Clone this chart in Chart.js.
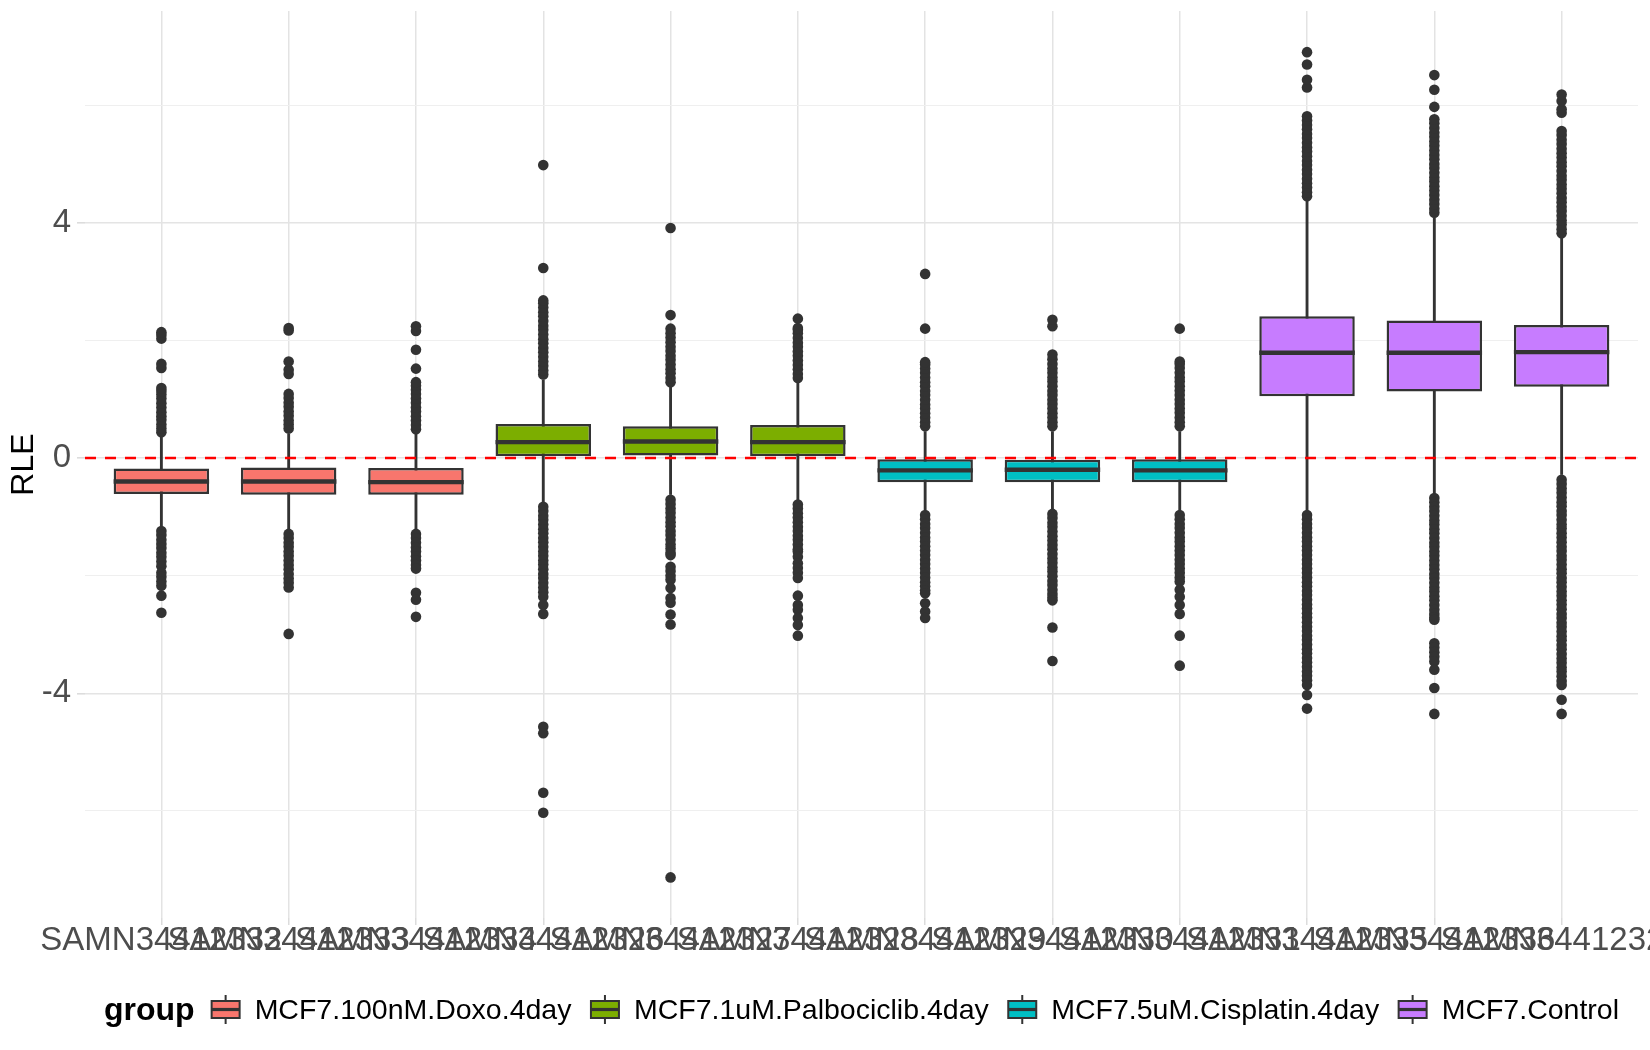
<!DOCTYPE html>
<html>
<head>
<meta charset="utf-8">
<script src="https://cdn.jsdelivr.net/npm/chart.js@4.4.1/dist/chart.umd.min.js"></script>
<style>
html,body{margin:0;padding:0;background:#ffffff;}
#wrap{width:1650px;height:1050px;}
</style>
</head>
<body>
<div id="wrap"><canvas id="c" width="1650" height="1050"></canvas></div>
<script>
// ---------------- data ----------------
const samples = ['SAMN34412332','SAMN34412333','SAMN34412334','SAMN34412326','SAMN34412327','SAMN34412328',
                 'SAMN34412329','SAMN34412330','SAMN34412331','SAMN34412335','SAMN34412336','SAMN34412325'];
const sampleGroup = [0,0,0,1,1,1,2,2,2,3,3,3];
const legendTitle = 'group';
const groupNames = ['MCF7.100nM.Doxo.4day','MCF7.1uM.Palbociclib.4day','MCF7.5uM.Cisplatin.4day','MCF7.Control'];
const groupColors = ['#F8766D','#7CAE00','#00BFC4','#C77CFF'];

const q1          = [-0.61,-0.625,-0.625, 0.03, 0.045, 0.03,-0.41,-0.41,-0.41, 1.05, 1.13, 1.21];
const median      = [-0.40,-0.40,-0.41, 0.27, 0.28, 0.27,-0.21,-0.20,-0.21, 1.79, 1.79, 1.80];
const q3          = [-0.18,-0.16,-0.17, 0.58, 0.54, 0.56,-0.02,-0.03,-0.02, 2.41, 2.34, 2.26];
const whiskerLow  = [-1.16,-1.21,-1.21,-0.75,-0.62,-0.71,-0.88,-0.87,-0.89,-0.89,-0.60,-0.28];
const whiskerHigh = [ 0.40, 0.41, 0.41, 1.33, 1.21, 1.28, 0.45, 0.45, 0.45, 4.37, 4.09, 3.74];

const outliersHigh = [
  [0.44,0.50,0.57,0.65,0.71,0.78,0.86,0.93,1.01,1.08,1.14,1.19,1.53,1.60,2.03,2.09,2.14],
  [0.50,0.57,0.64,0.72,0.79,0.87,0.94,1.02,1.09,1.43,1.50,1.64,2.17,2.21],
  [0.49,0.56,0.64,0.71,0.79,0.86,0.94,1.01,1.09,1.16,1.23,1.29,1.52,1.84,2.16,2.24],
  [1.42,1.49,1.57,1.64,1.72,1.80,1.87,1.95,2.02,2.10,2.18,2.25,2.33,2.41,2.48,2.56,2.63,2.68,3.23,4.98],
  [1.29,1.36,1.44,1.51,1.59,1.67,1.74,1.82,1.89,1.97,2.05,2.12,2.20,2.43,3.91],
  [1.36,1.43,1.51,1.58,1.66,1.74,1.81,1.89,1.96,2.04,2.12,2.18,2.21,2.37],
  [0.54,0.61,0.69,0.76,0.84,0.91,0.99,1.07,1.14,1.22,1.29,1.37,1.45,1.52,1.59,1.63,2.20,3.13],
  [0.54,0.61,0.69,0.76,0.84,0.92,0.99,1.07,1.14,1.22,1.30,1.37,1.45,1.52,1.60,1.68,1.76,2.24,2.35],
  [0.54,0.61,0.69,0.77,0.84,0.92,0.99,1.07,1.15,1.22,1.30,1.37,1.45,1.53,1.60,1.64,2.20],
  [4.45,4.52,4.60,4.67,4.75,4.83,4.90,4.98,5.05,5.13,5.21,5.28,5.36,5.44,5.51,5.59,5.66,5.74,5.81,6.30,6.43,6.69,6.90],
  [4.17,4.24,4.32,4.39,4.47,4.55,4.62,4.70,4.77,4.85,4.93,5.00,5.08,5.15,5.23,5.31,5.38,5.46,5.53,5.61,5.69,5.76,5.97,6.26,6.51],
  [3.82,3.89,3.97,4.04,4.12,4.20,4.27,4.35,4.42,4.50,4.58,4.65,4.73,4.80,4.88,4.96,5.03,5.11,5.18,5.26,5.34,5.41,5.49,5.56,5.87,5.93,6.07,6.18]
];
const outliersLow = [
  [-1.24,-1.31,-1.39,-1.46,-1.53,-1.61,-1.68,-1.76,-1.84,-1.95,-2.02,-2.10,-2.17,-2.34,-2.63],
  [-1.29,-1.36,-1.44,-1.51,-1.59,-1.66,-1.74,-1.82,-1.89,-1.97,-2.05,-2.12,-2.20,-2.99],
  [-1.29,-1.36,-1.44,-1.52,-1.59,-1.67,-1.74,-1.82,-1.88,-2.29,-2.41,-2.70],
  [-0.83,-0.90,-0.98,-1.05,-1.13,-1.21,-1.28,-1.36,-1.43,-1.51,-1.59,-1.66,-1.74,-1.81,-1.89,-1.97,-2.04,-2.12,-2.20,-2.28,-2.36,-2.50,-2.65,-4.57,-4.68,-5.69,-6.03],
  [-0.71,-0.78,-0.86,-0.93,-1.01,-1.09,-1.16,-1.24,-1.31,-1.39,-1.47,-1.54,-1.61,-1.65,-1.85,-1.92,-2.00,-2.07,-2.21,-2.38,-2.46,-2.66,-2.83,-7.13],
  [-0.79,-0.86,-0.94,-1.01,-1.09,-1.17,-1.24,-1.32,-1.39,-1.47,-1.55,-1.59,-1.68,-1.79,-1.87,-1.95,-2.04,-2.34,-2.50,-2.58,-2.72,-2.84,-3.02],
  [-0.97,-1.04,-1.12,-1.19,-1.27,-1.35,-1.42,-1.50,-1.57,-1.65,-1.73,-1.80,-1.88,-1.95,-2.03,-2.11,-2.18,-2.25,-2.30,-2.47,-2.61,-2.72],
  [-0.95,-1.02,-1.10,-1.17,-1.25,-1.33,-1.40,-1.48,-1.55,-1.63,-1.71,-1.78,-1.86,-1.93,-2.01,-2.09,-2.16,-2.24,-2.31,-2.37,-2.42,-2.88,-3.45],
  [-0.97,-1.04,-1.12,-1.19,-1.27,-1.35,-1.42,-1.50,-1.57,-1.65,-1.73,-1.80,-1.88,-1.95,-2.03,-2.10,-2.24,-2.36,-2.50,-2.65,-3.02,-3.53],
  [-0.97,-1.04,-1.12,-1.19,-1.27,-1.35,-1.42,-1.50,-1.57,-1.65,-1.73,-1.80,-1.88,-1.95,-2.03,-2.11,-2.18,-2.26,-2.33,-2.41,-2.49,-2.56,-2.64,-2.71,-2.79,-2.87,-2.94,-3.02,-3.09,-3.17,-3.25,-3.32,-3.40,-3.47,-3.55,-3.63,-3.70,-3.78,-3.86,-4.03,-4.26],
  [-0.68,-0.75,-0.83,-0.90,-0.98,-1.06,-1.13,-1.21,-1.28,-1.36,-1.44,-1.51,-1.59,-1.66,-1.74,-1.82,-1.89,-1.97,-2.04,-2.12,-2.20,-2.27,-2.35,-2.42,-2.50,-2.58,-2.65,-2.71,-2.75,-3.15,-3.22,-3.30,-3.38,-3.46,-3.60,-3.91,-4.35],
  [-0.37,-0.44,-0.52,-0.59,-0.67,-0.75,-0.82,-0.90,-0.97,-1.05,-1.13,-1.20,-1.28,-1.35,-1.43,-1.51,-1.58,-1.66,-1.73,-1.81,-1.89,-1.96,-2.04,-2.11,-2.19,-2.27,-2.34,-2.42,-2.49,-2.57,-2.65,-2.72,-2.80,-2.87,-2.95,-3.03,-3.10,-3.18,-3.25,-3.33,-3.41,-3.48,-3.56,-3.63,-3.71,-3.79,-3.86,-4.11,-4.35]
];

const yBreaks = [-4, 0, 4];
const yMinorBreaks = [-6, -2, 2, 6];
const yLimits = [-7.82, 7.60];
const xLimits = [-0.6, 11.6];
const refLineY = 0;
const yTitle = 'RLE';

// ---------------- chart ----------------
const idx = samples.map((_, i) => i);
const FONT = '"Liberation Sans", Arial, sans-serif';
Chart.defaults.font.family = FONT;

function halfBoxWidth(chart) {
  const xs = chart.scales.x;
  return Math.abs(xs.getPixelForValue(0.375) - xs.getPixelForValue(0));
}

const refLinePlugin = {
  id: 'refLine',
  afterDatasetsDraw(chart) {
    const {ctx, chartArea: a, scales: {y}} = chart;
    const py = y.getPixelForValue(refLineY);
    ctx.save();
    ctx.strokeStyle = '#FF0000';
    ctx.lineWidth = 2.6;
    ctx.setLineDash([11, 9]);
    ctx.beginPath();
    ctx.moveTo(a.left, py);
    ctx.lineTo(a.right, py);
    ctx.stroke();
    ctx.restore();
  }
};

const legendPlugin = {
  id: 'ggLegend',
  afterDraw(chart) {
    const {ctx, chartArea: a} = chart;
    ctx.save();
    const titleFont = 'bold 32px ' + FONT;
    const labelFont = '28.5px ' + FONT;
    ctx.font = titleFont;
    const tw = ctx.measureText(legendTitle).width;
    ctx.font = labelFont;
    const lw = groupNames.map(n => ctx.measureText(n).width);
    const keyW = 30, gTitle = 16, gKey = 14, gItem = 18.5;
    const total = tw + gTitle + lw.reduce((s, w) => s + keyW + gKey + w, 0) + gItem * (groupNames.length - 1);
    let x = (a.left + a.right) / 2 - total / 2;
    const yc = chart.height - 40.5;
    ctx.fillStyle = '#000000';
    ctx.textBaseline = 'alphabetic';
    ctx.textAlign = 'left';
    ctx.font = titleFont;
    ctx.fillText(legendTitle, x, yc + 10.5);
    x += tw + gTitle;
    groupNames.forEach((name, g) => {
      const cx = x + keyW / 2;
      ctx.strokeStyle = '#333333';
      ctx.lineWidth = 2;
      ctx.beginPath();
      ctx.moveTo(cx, yc - 14.5); ctx.lineTo(cx, yc - 8.5);
      ctx.moveTo(cx, yc + 8.5); ctx.lineTo(cx, yc + 14.5);
      ctx.stroke();
      ctx.fillStyle = groupColors[g];
      ctx.fillRect(x + 1, yc - 8.5, keyW - 2, 17);
      ctx.strokeRect(x + 1, yc - 8.5, keyW - 2, 17);
      ctx.lineWidth = 3.2;
      ctx.beginPath();
      ctx.moveTo(x + 1, yc); ctx.lineTo(x + keyW - 1, yc);
      ctx.stroke();
      x += keyW + gKey;
      ctx.fillStyle = '#000000';
      ctx.font = labelFont;
      ctx.fillText(name, x, yc + 9);
      x += lw[g] + gItem;
    });
    ctx.restore();
  }
};

const datasets = [
  {
    type: 'bar', label: 'whisker',
    data: idx.map(i => ({x: i, y: [whiskerLow[i], whiskerHigh[i]]})),
    backgroundColor: '#333333', borderWidth: 0, barThickness: 2.2, grouped: false, order: 4
  },
  {
    type: 'bar', label: 'box',
    data: idx.map(i => ({x: i, y: [q1[i], q3[i]]})),
    backgroundColor: idx.map(i => groupColors[sampleGroup[i]]),
    borderColor: '#333333', borderWidth: 2.5, borderSkipped: false,
    categoryPercentage: 1, barPercentage: 0.75, grouped: false, order: 3
  },
  {
    type: 'scatter', label: 'median',
    data: idx.map(i => ({x: i, y: median[i]})),
    pointStyle: 'line', pointRadius: ctx => halfBoxWidth(ctx.chart),
    pointBorderColor: '#333333', pointBorderWidth: 4.4, order: 2
  },
  {
    type: 'scatter', label: 'outliers',
    data: idx.flatMap(i => outliersHigh[i].concat(outliersLow[i]).map(v => ({x: i, y: v}))),
    pointRadius: 5.3, pointBackgroundColor: '#333333', pointBorderWidth: 0, order: 1
  }
];

new Chart(document.getElementById('c'), {
  type: 'bar',
  data: { datasets },
  plugins: [refLinePlugin, legendPlugin],
  options: {
    responsive: false,
    devicePixelRatio: 1,
    animation: false,
    events: [],
    layout: { padding: { left: 0, right: 12, top: 11, bottom: 52 } },
    plugins: { legend: { display: false }, tooltip: { enabled: false }, title: { display: false } },
    scales: {
      x: {
        type: 'linear', min: xLimits[0], max: xLimits[1], offset: false,
        afterBuildTicks: s => { s.ticks = idx.map(v => ({value: v})); },
        afterFit: s => { s.height = 80; s.paddingLeft = 0; s.paddingRight = 0; },
        grid: { offset: false, color: '#e3e3e3', lineWidth: 1.5, tickLength: 7, tickColor: '#dcdcdc' },
        border: { display: false },
        ticks: {
          autoSkip: false, maxRotation: 0, minRotation: 0, padding: -4,
          font: { family: FONT, size: 33 }, color: '#4d4d4d',
          callback: v => samples[v]
        }
      },
      y: {
        type: 'linear', min: yLimits[0], max: yLimits[1],
        afterBuildTicks: s => { s.ticks = yMinorBreaks.concat(yBreaks).sort((a, b) => a - b).map(v => ({value: v})); },
        afterFit: s => { s.width = 85; s.paddingTop = 0; s.paddingBottom = 0; },
        grid: {
          color: c => (c.tick && yBreaks.includes(c.tick.value)) ? '#e4e4e4' : '#efefef',
          lineWidth: c => (c.tick && yBreaks.includes(c.tick.value)) ? 1.6 : 1.1,
          tickLength: 8,
          tickColor: c => (c.tick && yBreaks.includes(c.tick.value)) ? '#dcdcdc' : 'rgba(0,0,0,0)'
        },
        border: { display: false },
        ticks: {
          padding: 6, font: { family: FONT, size: 33 }, color: '#4d4d4d',
          callback: v => yBreaks.includes(v) ? String(v) : ''
        },
        title: { display: true, text: yTitle, color: '#000000', font: { family: FONT, size: 32 }, padding: { top: 5, bottom: 0 } }
      }
    }
  }
});
</script>
</body>
</html>
